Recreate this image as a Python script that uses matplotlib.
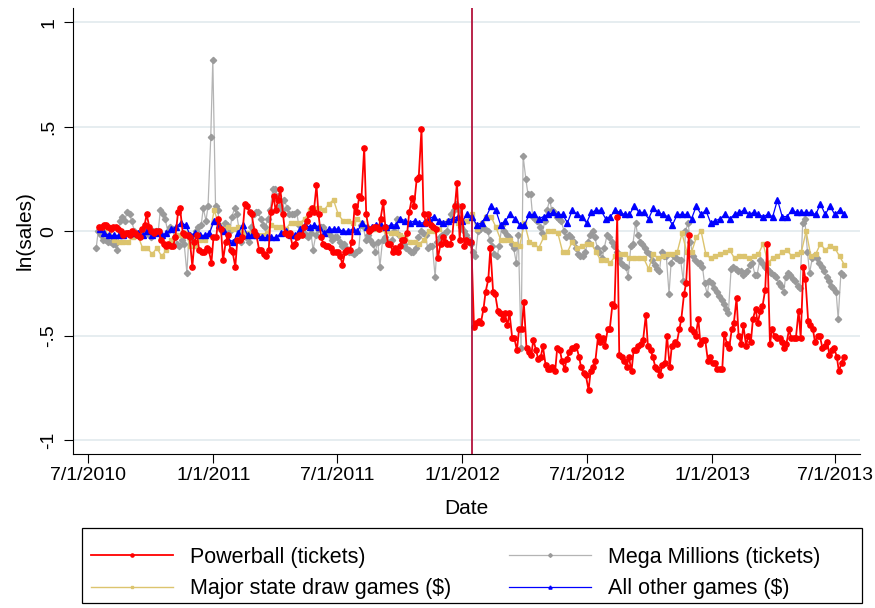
import matplotlib
matplotlib.use("Agg")
import matplotlib.pyplot as plt
from matplotlib.patches import Rectangle
import pandas as pd

plt.rcParams['font.family'] = ['Liberation Sans', 'DejaVu Sans']

# Powerball ticket sales per drawing (Wed/Sat), log deviation
pb_before = [
    0.02,
    0.02, 0.03, 0.03, 0.02, 0.01, 0.02, 0.02, 0.01, 0.0, -0.02, -0.01, -0.01, -0.02, 0.0, -0.01, -0.02, -0.03, 0.01, 0.03, 0.08,
    0.02, 0.0, -0.01, 0.0, 0.0, -0.04, -0.06, -0.07, -0.06, -0.07, -0.07, -0.03, 0.09, 0.11, -0.01, -0.02, -0.02, -0.03, -0.17,
    -0.05, -0.02, -0.09, -0.1, -0.1, -0.08, -0.09, -0.15, -0.03, -0.03, 0.06, 0.01, -0.14, -0.05, -0.02, -0.09, -0.1, -0.17, -0.04, -0.04,
    -0.03, 0.13, 0.12, 0.09, 0.08, 0.0, -0.02, -0.09, -0.09, -0.11, -0.12, -0.09, 0.09, 0.17, 0.1, 0.15, 0.2, 0.08, -0.01, -0.02, -0.01,
    -0.07, -0.06, -0.03, -0.02, -0.02, 0.02, 0.05, 0.08, 0.11, 0.09, 0.22, 0.08, -0.03, -0.06, -0.07, -0.07, -0.08, -0.1, -0.1, -0.1, -0.12,
    -0.16, -0.1, -0.09, -0.09, -0.05, 0.12, 0.09, 0.17, 0.16, 0.4, 0.08, 0.0, 0.01, 0.02, 0.02, 0.01, 0.06, 0.14, 0.02, -0.06, -0.06,
    -0.1, -0.08, -0.1, -0.07, -0.04, -0.04, -0.01, 0.09, 0.16, 0.12, 0.25, 0.26, 0.49, 0.08, 0.04, 0.08, 0.03, 0.02, 0.01, -0.13,
    -0.06, -0.03, -0.05, -0.06, -0.06, -0.03, 0.12, 0.23, -0.04, 0.12, -0.07, -0.04, -0.05, -0.05,
]
pb_after = [
    -0.46, -0.44, -0.43, -0.44, -0.37, -0.29, -0.23, -0.08, -0.29, -0.30,
    -0.38, -0.39, -0.42, -0.39, -0.45, -0.39, -0.51, -0.51, -0.57, -0.47,
    -0.47, -0.34, -0.56, -0.58, -0.59, -0.52, -0.57, -0.61, -0.6, -0.55,
    -0.64, -0.66, -0.66, -0.65, -0.67, -0.56, -0.57, -0.62, -0.66, -0.61,
    -0.58, -0.56, -0.56, -0.55, -0.6, -0.65, -0.68, -0.69, -0.76, -0.67,
    -0.65, -0.62, -0.5, -0.53, -0.51, -0.55, -0.47, -0.47, -0.35, -0.36,
    0.07, -0.59, -0.6, -0.62, -0.65, -0.6, -0.67, -0.57, -0.57, -0.55,
    -0.54, -0.52, -0.4, -0.55, -0.57, -0.6, -0.65,
    -0.66, -0.69, -0.64, -0.63, -0.5, -0.65, -0.55, -0.53, -0.54, -0.47,
    -0.42, -0.3, -0.25, -0.02, -0.47, -0.48, -0.5, -0.42, -0.54, -0.52,
    -0.52, -0.62, -0.6, -0.63, -0.63, -0.66, -0.66, -0.66, -0.49, -0.54,
    -0.56, -0.47, -0.44, -0.32, -0.5, -0.54, -0.45, -0.55, -0.5, -0.53,
    -0.42, -0.37, -0.44, -0.38, -0.36, -0.28, -0.06, -0.54, -0.47, -0.5,
    -0.51, -0.51, -0.53, -0.56, -0.54, -0.47, -0.51, -0.51, -0.51, -0.38,
    -0.51, -0.17, -0.23, -0.43, -0.45, -0.47, -0.53, -0.5, -0.5, -0.56,
    -0.55, -0.53, -0.59, -0.57, -0.56, -0.6, -0.67, -0.63, -0.6,
]

# Mega Millions ticket sales per drawing (Tue/Fri)
mm = [
    -0.08, 0.0, -0.02, -0.04, -0.04, -0.05, -0.05, -0.06, -0.06, -0.09, 0.05, 0.07, 0.05, 0.09, 0.08, 0.05, 0.0, -0.02, -0.02, 0.0,
    0.01, 0.0, -0.02, -0.03, 0.0, 0.0, 0.0, 0.1, 0.08, 0.06, 0.0, 0.02, 0.01, -0.03, -0.06, -0.07, -0.04, -0.06, -0.2,
    -0.02, -0.04, -0.02, 0.0, 0.02, 0.03, 0.11, 0.05, 0.12, 0.45, 0.82, 0.12, 0.1, 0.02, 0.0, 0.04, 0.03, 0.0, 0.07, 0.11, 0.08,
    0.0, -0.05, -0.02, -0.03, -0.05, 0.02, 0.08, 0.09, 0.09, 0.06, 0.03, 0.02, 0.06, 0.1, 0.2, 0.2, 0.17, 0.12, 0.1, 0.15, 0.11,
    0.08, 0.08, 0.08, 0.09, 0.03, 0.0, -0.01, -0.02, -0.03, -0.01, -0.09, -0.02, 0.01, 0.02, 0.02, 0.0, -0.01, -0.02, -0.04, -0.03, -0.03,
    -0.05, -0.07, -0.06, -0.08, -0.1, -0.1, -0.11, -0.1, -0.09, 0.03, 0.02, -0.04, -0.02, -0.04, -0.06, -0.1, -0.05, -0.17, -0.04, -0.03, -0.05,
    -0.06, -0.04, 0.0, 0.06, -0.02, -0.04, -0.06, -0.08, -0.09, -0.1, -0.1, -0.08, -0.03, 0.0, -0.01, -0.02, -0.08, -0.07, -0.07, -0.22, -0.05,
    -0.03, -0.02, -0.01, 0.0, 0.05, 0.08, 0.1, 0.13, 0.1, 0.02, 0.0, -0.02, -0.04, -0.06, -0.1, -0.12, 0.0, 0.01, 0.02, 0.01, 0.0,
    -0.04, -0.07, -0.11, -0.12, -0.07, 0.03, 0.0, -0.02, -0.03, -0.06, -0.08, -0.15, -0.02, -0.56, 0.36, 0.25, 0.18, 0.18, 0.07, 0.06, 0.05,
    0.02, -0.01, 0.05, 0.1, 0.15, 0.1, 0.09, 0.07, 0.06, 0.05, 0.0, -0.03, -0.02, -0.03, -0.05, -0.08, -0.11, -0.12, -0.12, -0.1, -0.05,
    -0.02, 0.0, -0.03, -0.08, -0.1, -0.13, -0.08, -0.02, -0.03, -0.05, -0.07, -0.1, -0.13, -0.15, -0.16, -0.17, -0.22, -0.07, -0.06, 0.04, -0.02,
    -0.05, -0.06, -0.08, -0.1, -0.11, -0.14, -0.16, -0.18, -0.19, -0.1, -0.12, -0.12, -0.3, -0.15, -0.12, -0.13, -0.14, -0.14, -0.24, 0.0, 0.04,
    -0.05, -0.12, -0.14, -0.15, -0.15, -0.17, -0.25, -0.3, -0.24, -0.25, -0.27, -0.29, -0.31, -0.33, -0.35, -0.37, -0.39, -0.18, -0.17, -0.18, -0.19,
    -0.19, -0.21, -0.2, -0.19, -0.16, -0.15, -0.21, -0.21, -0.14, -0.15, -0.17, -0.18, -0.19, -0.2, -0.21, -0.22, -0.25, -0.26, -0.29, -0.22, -0.2,
    -0.21, -0.23, -0.24, -0.26, -0.27, 0.04, 0.06, -0.1, -0.2, -0.13, -0.12, -0.13, -0.15, -0.17, -0.19, -0.22, -0.24, -0.26, -0.27, -0.29, -0.42,
    -0.2, -0.21,
]

# Weekly dollar sales of the major state draw games
state_draw = [
    0.02, 0.0, -0.02, -0.04, -0.05, -0.05, -0.05, -0.03, -0.02, -0.08,
    -0.08, -0.11, -0.08, -0.12, -0.09, -0.04, -0.02, -0.02, -0.01, -0.07,
    -0.07, -0.04, -0.04, -0.02, 0.1, 0.03, 0.01, 0.02, 0.01, 0.02,
    -0.01, -0.01, -0.02, -0.02, -0.02, -0.01, 0.03, 0.02, 0.02, 0.01,
    0.04, 0.04, 0.04, 0.06, 0.1, 0.11, 0.11, 0.1, 0.13, 0.15,
    0.08, 0.05, 0.05, 0.04, 0.06, 0.04, 0.02, 0.01, 0.01, 0.01,
    0.0, -0.01, -0.01, -0.02, -0.03, -0.05, -0.05, -0.06, -0.04, 0.0,
    0.0, 0.01, 0.04, 0.05, 0.06, 0.04, 0.05, 0.05, 0.08, 0.01,
    0.04, 0.07, 0.07, 0.02, -0.04, -0.04, -0.04, -0.06, -0.07, 0.04,
    -0.05, -0.06, -0.08, -0.03, 0.0, 0.0, -0.01, -0.1, -0.1, -0.05,
    -0.08, -0.07, -0.06, -0.06, -0.1, -0.14, -0.14, -0.15, -0.12, -0.11,
    -0.11, -0.13, -0.13, -0.13, -0.13, -0.18, -0.11, -0.13, -0.12, -0.11,
    -0.11, -0.1, -0.01, -0.1, -0.1, -0.03, 0.0, -0.11, -0.13, -0.12,
    -0.11, -0.1, -0.09, -0.13, -0.12, -0.12, -0.13, -0.12, -0.11, -0.06,
    -0.15, -0.13, -0.12, -0.1, -0.09, -0.12, -0.11, -0.1, 0.0, -0.12,
    -0.11, -0.06, -0.09, -0.07, -0.08, -0.12, -0.16,
]

# Weekly dollar sales of all other games
other = [
    0.01, -0.01, -0.02, -0.02, -0.02, -0.02, -0.01, -0.01, -0.01, -0.02,
    0.0, -0.02, -0.01, -0.02, -0.01, 0.01, 0.02, 0.04, 0.03, -0.02,
    -0.01, -0.02, -0.02, -0.01, 0.05, 0.03, 0.0, -0.04, -0.05, -0.01,
    0.03, -0.02, -0.02, -0.02, -0.03, -0.03, -0.03, -0.03, -0.01, 0.0,
    -0.02, -0.02, 0.01, 0.03, 0.02, 0.03, 0.02, -0.01, 0.01, 0.01,
    0.01, 0.0, 0.0, 0.01, 0.0, 0.04, 0.02, 0.02, 0.03, 0.03,
    0.02, 0.03, 0.03, 0.06, 0.05, 0.04, 0.05, 0.04, 0.04, 0.06,
    0.07, 0.05, 0.04, 0.05, 0.06, 0.07, 0.05, 0.08, 0.07, 0.03,
    0.04, 0.07, 0.12, 0.1, 0.03, 0.05, 0.08, 0.06, 0.03, 0.03,
    0.08, 0.08, 0.06, 0.07, 0.08, 0.09, 0.08, 0.08, 0.04, 0.1,
    0.08, 0.07, 0.04, 0.09, 0.1, 0.1, 0.06, 0.07, 0.1, 0.09,
    0.08, 0.08, 0.12, 0.09, 0.09, 0.06, 0.11, 0.09, 0.08, 0.07,
    0.03, 0.08, 0.08, 0.08, 0.06, 0.12, 0.08, 0.1, 0.04, 0.05,
    0.06, 0.08, 0.06, 0.08, 0.09, 0.1, 0.08, 0.09, 0.08, 0.07,
    0.08, 0.07, 0.15, 0.07, 0.07, 0.1, 0.09, 0.09, 0.09, 0.09,
    0.08, 0.13, 0.08, 0.12, 0.08, 0.1, 0.08,
]

x_tick_labels = ['7/1/2010', '1/1/2011', '7/1/2011', '1/1/2012',
                 '7/1/2012', '1/1/2013', '7/1/2013']
y_ticks = [-1, -0.5, 0, 0.5, 1]
y_tick_labels = ['-1', '-.5', '0', '.5', '1']
price_change = '2012-01-15'

# drawing / reporting dates
pb_dates = (pd.bdate_range(end='2012-01-14', periods=len(pb_before), freq='C', weekmask='Wed Sat')
            .append(pd.bdate_range(start='2012-01-18', periods=len(pb_after), freq='C', weekmask='Wed Sat')))
pb = pb_before + pb_after
mm_dates = pd.bdate_range(start='2010-07-13', periods=len(mm), freq='C', weekmask='Tue Fri')
wk_dates = pd.date_range('2010-07-18', periods=len(other), freq='W-SUN')
sd_dates = pd.date_range('2010-07-18', periods=len(state_draw), freq='W-SUN')

W, H = 875, 608
fig = plt.figure(figsize=(W / 100, H / 100), dpi=100)
ax = fig.add_axes([73 / W, 1 - 454 / H, (860 - 73) / W, (454 - 8) / H])

red = '#ff0000'
gray_line = '#b4b4b4'
gray_mk = '#9a9a9a'
sand = '#dcc46e'
blue = '#0000ff'

l_mm, = ax.plot(mm_dates, mm, color=gray_line, lw=0.9, marker='D', ms=3.2,
                mfc=gray_mk, mec=gray_mk, zorder=2, label='Mega Millions (tickets)')
l_sd, = ax.plot(sd_dates, state_draw, color=sand, lw=1.0, marker='s', ms=3.2,
                mfc=sand, mec=sand, zorder=3, label='Major state draw games ($)')
l_ot, = ax.plot(wk_dates, other, color=blue, lw=0.9, marker='^', ms=3.8,
                mfc=blue, mec=blue, zorder=4, label='All other games ($)')
l_pb, = ax.plot(pb_dates, pb, color=red, lw=1.3, marker='o', ms=3.8,
                mfc=red, mec=red, zorder=5, label='Powerball (tickets)')

ax.axvline(pd.Timestamp(price_change), color='#b3123c', lw=1.3, zorder=6)

ax.set_xlim(pd.Timestamp('2010-06-09'), pd.Timestamp('2013-08-06'))
ax.set_ylim(-1.066, 1.068)

tick_dates = [pd.Timestamp(f'{y}-{m:02d}-01') for (y, m) in
              [(2010, 7), (2011, 1), (2011, 7), (2012, 1), (2012, 7), (2013, 1), (2013, 7)]]
ax.set_xticks(tick_dates)
ax.set_xticklabels(x_tick_labels, fontsize=14)
ax.set_yticks(y_ticks)
ax.set_yticklabels(y_tick_labels, fontsize=14, rotation=90, va='center')

ax.tick_params(axis='both', direction='out', length=6.5, width=0.8, color='black')
ax.tick_params(axis='x', pad=3)
ax.tick_params(axis='y', pad=5)

for s in ('top', 'right'):
    ax.spines[s].set_visible(False)
for s in ('left', 'bottom'):
    ax.spines[s].set_linewidth(0.8)
    ax.spines[s].set_color('black')

ax.yaxis.grid(True, color='#e4ecef', lw=1.3)
ax.set_axisbelow(True)

ax.set_xlabel('Date', fontsize=15, labelpad=11)
ax.set_ylabel('ln(sales)', fontsize=15, labelpad=4)

# legend below the plot, framed box spanning the width
fig.patches.append(Rectangle((82 / W, 1 - 603 / H), (862 - 82) / W, (603 - 528) / H,
                             transform=fig.transFigure, fill=False, ec='black', lw=0.9))
leg = fig.legend(handles=[l_pb, l_sd, l_mm, l_ot], ncol=2, loc='center left',
                 bbox_to_anchor=(76 / W, 1 - 573 / H), frameon=False, fontsize=15.5,
                 handlelength=3.8, handletextpad=0.8, columnspacing=2.7,
                 labelspacing=0.5, borderpad=0.2, markerscale=0.6)

fig.savefig('out.png', dpi=100)
